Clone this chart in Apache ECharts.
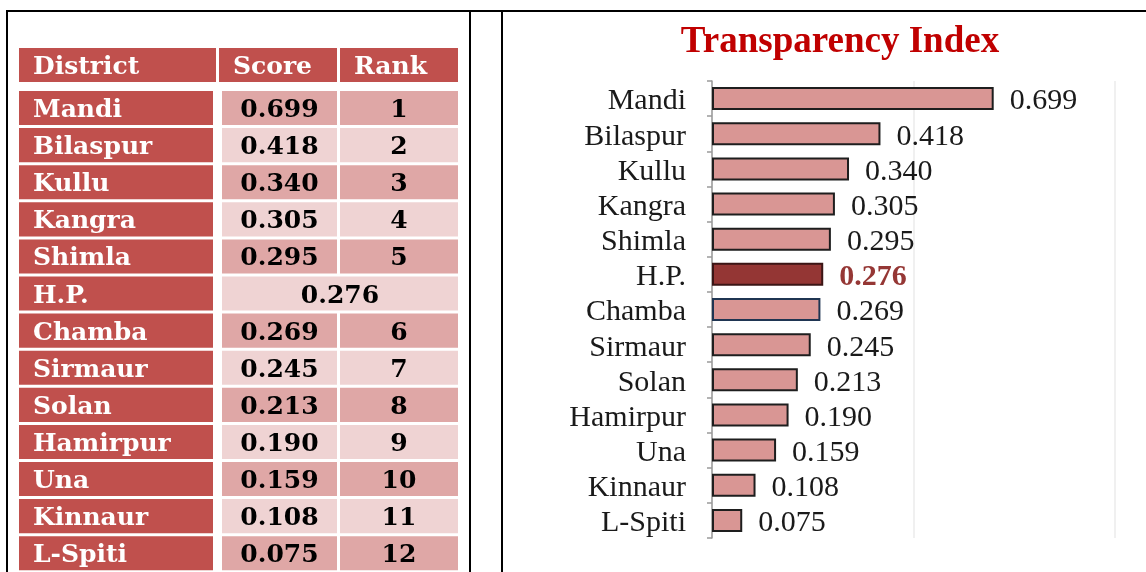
<!DOCTYPE html>
<html>
<head>
<meta charset="utf-8">
<script src="https://cdn.jsdelivr.net/npm/echarts@6/dist/echarts.min.js"></script>
<style>
  html, body { margin: 0; padding: 0; background: #ffffff; }
  #chart { width: 1146px; height: 572px; }
</style>
</head>
<body>
<div id="chart"></div>
<script>
// District transparency scores, ranked (H.P. = state average, unranked)
const districts = ['Mandi', 'Bilaspur', 'Kullu', 'Kangra', 'Shimla', 'H.P.', 'Chamba', 'Sirmaur', 'Solan', 'Hamirpur', 'Una', 'Kinnaur', 'L-Spiti'];
const scores = [0.699, 0.418, 0.340, 0.305, 0.295, 0.276, 0.269, 0.245, 0.213, 0.190, 0.159, 0.108, 0.075];
const ranks = [1, 2, 3, 4, 5, null, 6, 7, 8, 9, 10, 11, 12];
const tableHeaders = ['District', 'Score', 'Rank'];
const stateRow = 'H.P.';
const chartTitle = 'Transparency Index';

// colours
const RED = '#c0504d';
const CELL_DARK = '#dfa7a6';
const CELL_LIGHT = '#efd3d3';
const BAR_FILL = '#d99694';
const BAR_STATE = '#943634';
const TEXT_STATE = '#953735';

const tableFont = '"DejaVu Serif", serif';
const chartFont = '"Liberation Serif", "Times New Roman", serif';
const cellFont = 'bold 25px ' + tableFont;

// table geometry (relative to the table grid's left edge)
const TABLE_LEFT = 19;
const TABLE_WIDTH = 439;
const rowCols = { district: [0, 194], score: [203, 318], rank: [321, 439] };
const headCols = [[0, 197], [200, 318], [321, 439]];

function fmt(v) { return v.toFixed(3); }

function cellText(x, y, text, color, align) {
  return { type: 'text', x: x, y: y,
    style: { text: text, fill: color, font: cellFont, verticalAlign: 'middle', align: align } };
}

function renderRow(params, api) {
  const idx = api.value(1);
  const cs = params.coordSys;
  const yc = api.coord([0, idx])[1];
  const band = api.size([0, 1])[1];
  const top = yc - band / 2 + 1.5;
  const h = band - 3;
  const ty = top + h / 2 + 2.5;
  const x0 = cs.x;
  const fill = idx % 2 === 0 ? CELL_DARK : CELL_LIGHT;
  const children = [];
  const dc = rowCols.district, sc = rowCols.score, rc = rowCols.rank;
  children.push({ type: 'rect', shape: { x: x0 + dc[0], y: top, width: dc[1] - dc[0], height: h }, style: { fill: RED } });
  children.push(cellText(x0 + dc[0] + 14, ty, districts[idx], '#ffffff', 'left'));
  if (ranks[idx] == null) {
    children.push({ type: 'rect', shape: { x: x0 + sc[0], y: top, width: rc[1] - sc[0], height: h }, style: { fill: fill } });
    children.push(cellText(x0 + (sc[0] + rc[1]) / 2, ty, fmt(scores[idx]), '#000000', 'center'));
  } else {
    children.push({ type: 'rect', shape: { x: x0 + sc[0], y: top, width: sc[1] - sc[0], height: h }, style: { fill: fill } });
    children.push({ type: 'rect', shape: { x: x0 + rc[0], y: top, width: rc[1] - rc[0], height: h }, style: { fill: fill } });
    children.push(cellText(x0 + (sc[0] + sc[1]) / 2, ty, fmt(scores[idx]), '#000000', 'center'));
    children.push(cellText(x0 + (rc[0] + rc[1]) / 2, ty, String(ranks[idx]), '#000000', 'center'));
  }
  return { type: 'group', children: children };
}

// header row, frame lines and chart title
const graphics = [];
tableHeaders.forEach(function (h, i) {
  const c = headCols[i];
  graphics.push({ type: 'rect', left: TABLE_LEFT + c[0], top: 48, shape: { width: c[1] - c[0], height: 34 }, style: { fill: RED } });
  graphics.push({ type: 'text', x: TABLE_LEFT + c[0] + 14, y: 67,
    style: { text: h, fill: '#ffffff', font: cellFont, verticalAlign: 'middle', align: 'left' } });
});
const frameStyle = { stroke: '#000000', lineWidth: 2 };
graphics.push({ type: 'line', shape: { x1: 6, y1: 11, x2: 1146, y2: 11 }, style: frameStyle });
[7, 470, 502].forEach(function (x) {
  graphics.push({ type: 'line', shape: { x1: x, y1: 10, x2: x, y2: 572 }, style: frameStyle });
});
graphics.push({ type: 'text', x: 840, y: 42,
  style: { text: chartTitle, fill: '#c00000', font: 'bold 37px ' + chartFont, align: 'center', verticalAlign: 'middle' } });

const barData = scores.map(function (v, i) {
  const name = districts[i];
  const item = { value: v, itemStyle: { color: BAR_FILL, borderColor: '#1e1e1e', borderWidth: 2 } };
  if (name === stateRow) {
    item.itemStyle = { color: BAR_STATE, borderColor: '#3b1515', borderWidth: 2 };
    item.label = { color: TEXT_STATE, fontWeight: 'bold' };
  } else if (name === 'Chamba') {
    item.itemStyle.borderColor = '#1f3552';
  }
  return item;
});

const chart = echarts.init(document.getElementById('chart'), null, { renderer: 'canvas' });
chart.setOption({
  animation: false,
  backgroundColor: '#ffffff',
  graphic: graphics,
  grid: [
    { left: TABLE_LEFT, width: TABLE_WIDTH, top: 89.5, height: 482.3 },
    { left: 712, right: 31, top: 81, bottom: 34 }
  ],
  xAxis: [
    { gridIndex: 0, type: 'value', min: 0, max: 1, show: false },
    { gridIndex: 1, type: 'value', min: 0, max: 1, interval: 0.5,
      axisLine: { show: false }, axisTick: { show: false }, axisLabel: { show: false },
      splitLine: { show: true, lineStyle: { color: '#ebebeb', width: 1.5 } } }
  ],
  yAxis: [
    { gridIndex: 0, type: 'category', data: districts, inverse: true, show: false },
    { gridIndex: 1, type: 'category', data: districts, inverse: true,
      axisLine: { show: true, lineStyle: { color: '#9a9a9a', width: 1.5 } },
      axisTick: { show: true, interval: 0, length: 5, lineStyle: { color: '#9a9a9a', width: 1.5 } },
      axisLabel: { interval: 0, margin: 26,
        formatter: function (v) { return '{n|' + v + '}'; },
        rich: { n: { color: '#1a1a1a', fontFamily: chartFont, fontSize: 30, padding: [6, 0, 0, 0] } } } }
  ],
  series: [
    { type: 'custom', xAxisIndex: 0, yAxisIndex: 0, renderItem: renderRow,
      data: districts.map(function (d, i) { return [0, i]; }), silent: true },
    { type: 'bar', xAxisIndex: 1, yAxisIndex: 1, barWidth: 23, data: barData,
      label: { show: true, position: 'right', distance: 16, offset: [0, 3], color: '#1a1a1a',
        fontFamily: chartFont, fontSize: 30,
        formatter: function (p) { return fmt(p.value); } } }
  ]
});
</script>
</body>
</html>
